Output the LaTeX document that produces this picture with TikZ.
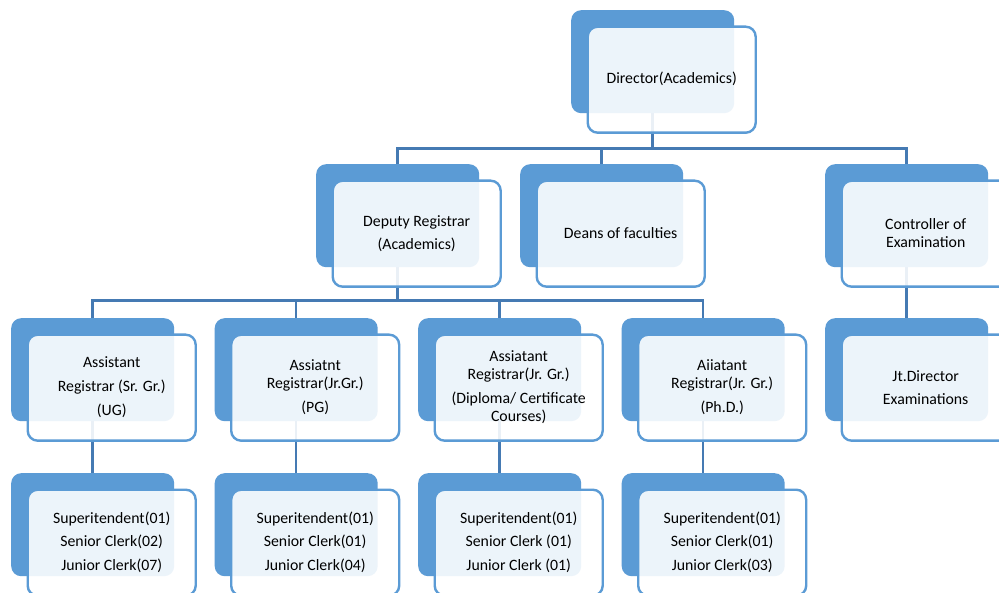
\documentclass[tikz,border=0pt]{standalone}
\usepackage{fontspec}
\setmainfont{Carlito}
\usetikzlibrary{backgrounds}

\definecolor{accent}{HTML}{5B9BD5}
\definecolor{linkblue}{HTML}{457AB3}

\tikzset{
  backbox/.style={rectangle, rounded corners=10pt, fill=accent,
    minimum width=163pt, minimum height=103pt, anchor=north west, inner sep=0pt},
  frontbox/.style={rectangle, rounded corners=10pt, draw=accent, line width=2.4pt,
    fill=white, fill opacity=0.89, minimum width=168pt, minimum height=106pt,
    anchor=north west, inner sep=0pt},
  unittext/.style={align=center, inner sep=0pt, text=black,
    font=\fontsize{15.8}{18}\selectfont},
  link/.style={draw=linkblue, line width=2.5pt},
}

% one unit: name, x and y of the blue card, text
\newcommand\orgunit[4]{%
  \node[backbox] (#1-back) at (#2,#3) {};
  \node[frontbox] (#1) at (#2+15.5,#3+15.5) {};
  \node[unittext] (#1-text) at ([yshift=0.5pt]#1.center) {#4};
}

\begin{document}
\begin{tikzpicture}[x=1pt,y=-1pt]
  \useasboundingbox (0,0) rectangle (999,593);
  \clip (0,0) rectangle (999,593);

  % top level
  \orgunit{dir}{571}{10}{Director(Academics)}

  % second level
  \orgunit{dep}{316}{164}{Deputy Registrar\\[5pt](Academics)}
  \orgunit{dean}{520}{164}{Deans of faculties}
  \orgunit{ctl}{825}{164}{Controller of\\Examination}

  % third level
  \orgunit{ug}{11}{318}{Assistant\\[6pt]Registrar (Sr. Gr.)\\[6.5pt](UG)}
  \orgunit{pg}{214.5}{318}{Assiatnt\\Registrar(Jr.Gr.)\\[6pt](PG)}
  \orgunit{dip}{418}{318}{Assiatant\\Registrar(Jr. Gr.)\\[6pt](Diploma/ Certificate\\Courses)}
  \orgunit{phd}{621.5}{318}{Aiiatant\\Registrar(Jr. Gr.)\\[6pt](Ph.D.)}
  \orgunit{jt}{825}{318}{Jt.Director\\[5pt]Examinations}

  % staff level
  \orgunit{ugs}{11}{473}{Superitendent(01)\\[5.5pt]Senior Clerk(02)\\[5.5pt]Junior Clerk(07)}
  \orgunit{pgs}{214.5}{473}{Superitendent(01)\\[5.5pt]Senior Clerk(01)\\[5.5pt]Junior Clerk(04)}
  \orgunit{dips}{418}{473}{Superitendent(01)\\[5.5pt]Senior Clerk (01)\\[5.5pt]Junior Clerk (01)}
  \orgunit{phds}{621.5}{473}{Superitendent(01)\\[5.5pt]Senior Clerk(01)\\[5.5pt]Junior Clerk(03)}

  \begin{pgfonlayer}{background}
    \fill[white] (0,0) rectangle (999,593);
    % director to second level
    \draw[link] (dir-back.south) -- ++(0,35) coordinate (busA);
    \draw[link] (dep-back.north) |- (busA) -| (ctl-back.north);
    \draw[link] (dean-back.north) -- (dean-back.north |- busA);
    % deputy registrar to assistant registrars
    \draw[link] (dep-back.south) -- ++(0,33) coordinate (busB);
    \draw[link] (ug-back.north) |- (busB) -| (phd-back.north);
    \draw[link] (pg-back.north) -- (pg-back.north |- busB);
    \draw[link] (dip-back.north) -- (dip-back.north |- busB);
    % single links
    \draw[link] (ctl-back.south) -- (jt-back.north);
    \draw[link] (ug-back.south) -- (ugs-back.north);
    \draw[link] (pg-back.south) -- (pgs-back.north);
    \draw[link] (dip-back.south) -- (dips-back.north);
    \draw[link] (phd-back.south) -- (phds-back.north);
  \end{pgfonlayer}
\end{tikzpicture}
\end{document}
